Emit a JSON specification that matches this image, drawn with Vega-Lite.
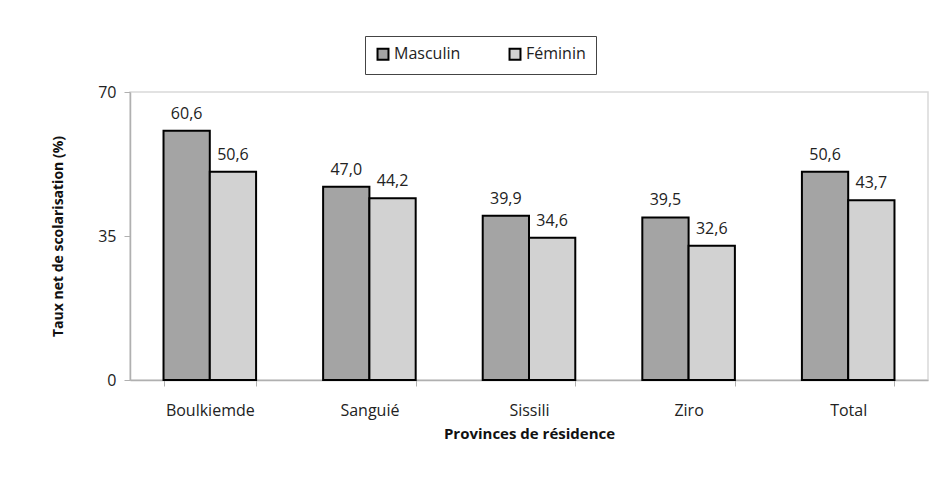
{
  "$schema": "https://vega.github.io/schema/vega-lite/v6.json",
  "autosize": {"type": "none"},
  "width": 798,
  "height": 288,
  "padding": {"left": 130, "top": 92, "right": 16, "bottom": 113},
  "background": "white",
  "config": {
    "font": "Open Sans",
    "locale": {"number": {"decimal": ",", "thousands": " ", "grouping": [3], "currency": ["", " €"]}},
    "view": {"stroke": "#d9d9d9", "strokeWidth": 1.5},
    "axis": {"domainColor": "#b0b0b0", "tickColor": "#b0b0b0", "domainWidth": 1.5, "labelColor": "#222222", "titleColor": "#111111", "grid": false}
  },
  "data": {
    "values": [
      {"province": "Boulkiemde", "sexe": "Masculin", "taux": 60.6},
      {"province": "Boulkiemde", "sexe": "Féminin", "taux": 50.6},
      {"province": "Sanguié", "sexe": "Masculin", "taux": 47.0},
      {"province": "Sanguié", "sexe": "Féminin", "taux": 44.2},
      {"province": "Sissili", "sexe": "Masculin", "taux": 39.9},
      {"province": "Sissili", "sexe": "Féminin", "taux": 34.6},
      {"province": "Ziro", "sexe": "Masculin", "taux": 39.5},
      {"province": "Ziro", "sexe": "Féminin", "taux": 32.6},
      {"province": "Total", "sexe": "Masculin", "taux": 50.6},
      {"province": "Total", "sexe": "Féminin", "taux": 43.7}
    ]
  },
  "encoding": {
    "x": {
      "field": "province", "type": "nominal", "sort": null,
      "scale": {"paddingInner": 0.42, "paddingOuter": 0.21},
      "axis": {"title": "Provinces de résidence", "labelAngle": 0, "labelFontSize": 16, "labelPadding": 16, "tickBand": "extent", "tickSize": 6, "titleFontSize": 15, "titleFontWeight": "bold", "titlePadding": 8}
    },
    "xOffset": {"field": "sexe", "type": "nominal", "sort": ["Masculin", "Féminin"]},
    "y": {
      "field": "taux", "type": "quantitative",
      "scale": {"domain": [0, 70], "nice": false},
      "axis": {"title": "Taux net de scolarisation (%)", "values": [0, 35, 70], "labelFontSize": 16, "tickSize": 6, "labelPadding": 8, "titleFontSize": 14, "titleFontWeight": "bold", "titlePadding": 32}
    }
  },
  "layer": [
    {
      "mark": {"type": "bar", "stroke": "black", "strokeWidth": 2},
      "encoding": {
        "color": {
          "field": "sexe", "type": "nominal", "sort": ["Masculin", "Féminin"],
          "scale": {"domain": ["Masculin", "Féminin"], "range": ["#a4a4a4", "#d2d2d2"]},
          "legend": {
            "title": null, "orient": "none", "legendX": 235, "legendY": -56, "direction": "horizontal",
            "symbolType": "square", "symbolSize": 120, "symbolStrokeColor": "black", "symbolStrokeWidth": 2,
            "labelFontSize": 16, "labelColor": "#222222", "columnPadding": 44, "labelOffset": 3,
            "strokeColor": "#444444", "padding": 10, "fillColor": "white"
          }
        }
      }
    },
    {
      "mark": {"type": "text", "baseline": "bottom", "dy": -9, "fontSize": 16, "color": "#222222"},
      "encoding": {
        "text": {"field": "taux", "type": "quantitative", "format": ".1f"}
      }
    }
  ]
}
